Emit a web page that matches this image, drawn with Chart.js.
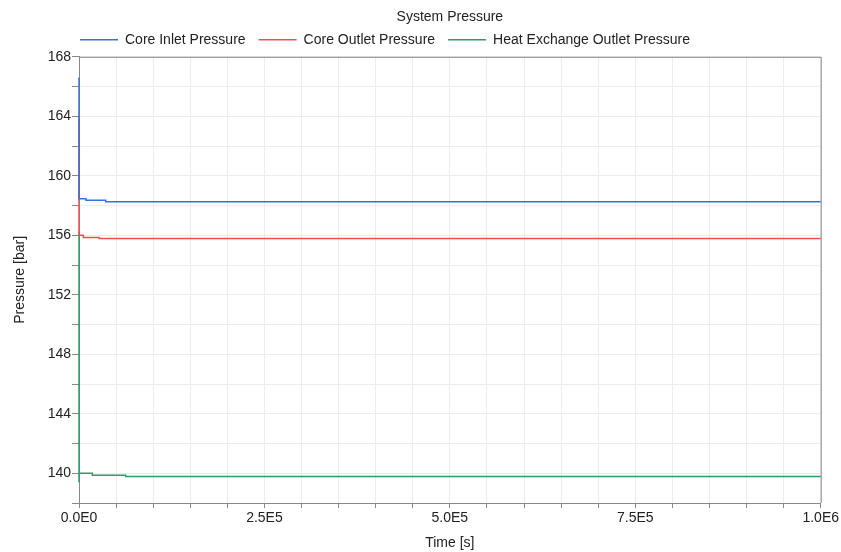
<!DOCTYPE html>
<html>
<head>
<meta charset="utf-8">
<script src="https://cdn.jsdelivr.net/npm/chart.js@4/dist/chart.umd.min.js"></script>
<style>
  html, body { margin: 0; padding: 0; background: #fff; }
  #wrap { width: 841px; height: 552px; position: relative; }
</style>
</head>
<body>
<div id="wrap"><canvas id="c"></canvas></div>
<script>
// Simulation time [s] and pressure [bar] samples for each loop location
const inletTime = [0, 0, 9400, 9400, 36000, 36000, 1000000];
const inletPressure = [166.6, 158.46, 158.46, 158.35, 158.35, 158.26, 158.26];

const outletTime = [0, 0, 5800, 5800, 27000, 27000, 1000000];
const outletPressure = [164.0, 156.0, 156.0, 155.85, 155.85, 155.79, 155.79];

const hxTime = [0, 0, 0, 18000, 18000, 63000, 63000, 1000000];
const hxPressure = [156.2, 139.4, 140.0, 140.0, 139.87, 139.87, 139.79, 139.79];

const seriesNames = ['Core Inlet Pressure', 'Core Outlet Pressure', 'Heat Exchange Outlet Pressure'];
const seriesColors = ['#3572d8', '#ee4f4f', '#289e68'];

const xLabelTicks = [0, 250000, 500000, 750000, 1000000];
const yLabelTicks = [140, 144, 148, 152, 156, 160, 164, 168];

function pts(t, v) { return t.map((x, i) => ({ x: x, y: v[i] })); }

const FONT = 'Liberation Sans, Arial, sans-serif';
const FS = 14;
const TXT = '#222';
const LEGEND_PAD = 13;

new Chart(document.getElementById('c'), {
  type: 'line',
  data: {
    datasets: [
      { label: seriesNames[0], data: pts(inletTime, inletPressure) },
      { label: seriesNames[1], data: pts(outletTime, outletPressure) },
      { label: seriesNames[2], data: pts(hxTime, hxPressure) }
    ].map((d, i) => Object.assign(d, {
      borderColor: seriesColors[i],
      backgroundColor: seriesColors[i],
      borderWidth: 1.5,
      pointRadius: 0,
      tension: 0,
      fill: false,
      clip: 3
    }))
  },
  options: {
    responsive: true,
    maintainAspectRatio: false,
    animation: false,
    layout: { padding: { left: 0, right: 20, top: 0, bottom: 0 } },
    plugins: {
      title: {
        display: true,
        fullSize: false,
        text: 'System Pressure',
        color: TXT,
        font: { family: FONT, size: FS, weight: 'normal' },
        padding: { top: 9, bottom: -6 }
      },
      legend: {
        display: true,
        fullSize: false,
        align: 'start',
        labels: {
          color: TXT,
          font: { family: FONT, size: FS },
          usePointStyle: true,
          pointStyleWidth: 38,
          pointStyle: 'line',
          padding: LEGEND_PAD
        }
      },
      tooltip: { enabled: false }
    },
    scales: {
      x: {
        type: 'linear',
        min: 0,
        max: 1000000,
        afterFit: s => { s.height = 49; },
        afterBuildTicks: s => {
          const t = [];
          for (let v = 0; v <= 1000000; v += 50000) t.push({ value: v });
          s.ticks = t;
        },
        ticks: {
          color: TXT,
          font: { family: FONT, size: FS },
          maxRotation: 0,
          autoSkip: false,
          padding: 2,
          callback: v => xLabelTicks.includes(v) ? v.toExponential(1).toUpperCase().replace('E+', 'E') : ''
        },
        grid: { color: '#ececec', tickColor: '#888', tickLength: 5, drawTicks: true },
        border: { color: '#888', width: 1 },
        title: {
          display: true,
          text: 'Time [s]',
          color: TXT,
          font: { family: FONT, size: FS },
          padding: { top: 2, bottom: 0 }
        }
      },
      y: {
        type: 'linear',
        min: 138,
        max: 168,
        afterFit: s => { s.width = 79; },
        afterBuildTicks: s => {
          const t = [];
          for (let v = 138; v <= 168; v += 2) t.push({ value: v });
          s.ticks = t;
        },
        ticks: {
          color: TXT,
          font: { family: FONT, size: FS },
          autoSkip: false,
          padding: 1,
          callback: v => yLabelTicks.includes(v) ? String(v) : ''
        },
        grid: { color: '#ececec', tickColor: '#888', tickLength: 7, drawTicks: true },
        border: { color: '#888', width: 1 },
        title: {
          display: true,
          text: 'Pressure [bar]',
          color: TXT,
          font: { family: FONT, size: FS },
          padding: { top: 12, bottom: 4 }
        }
      }
    }
  },
  plugins: [{
    // legend row starts flush with the left edge of the plot
    id: 'legendFlush',
    afterLayout(chart) {
      const lg = chart.legend;
      if (lg) { lg.left -= (LEGEND_PAD - 1); }
    }
  }, {
    id: 'frame',
    afterDatasetsDraw(chart) {
      const a = chart.chartArea, ctx = chart.ctx;
      ctx.save();
      ctx.strokeStyle = '#888';
      ctx.lineWidth = 1;
      ctx.beginPath();
      ctx.moveTo(a.left, a.top + 0.5);
      ctx.lineTo(a.right + 0.5, a.top + 0.5);
      ctx.lineTo(a.right + 0.5, a.bottom);
      ctx.stroke();
      ctx.restore();
    }
  }]
});
</script>
</body>
</html>
